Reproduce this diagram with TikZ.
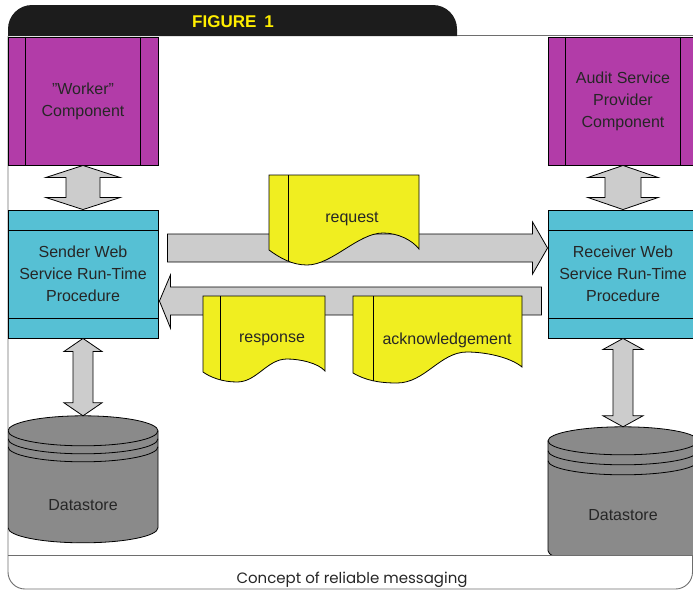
\documentclass[tikz,border=0pt]{standalone}
\usepackage{fontspec}
\setmainfont{Liberation Sans}
\newfontfamily\capfont{Poppins}
\usetikzlibrary{calc}

\definecolor{compmag}{RGB}{178,60,168}
\definecolor{proccyan}{RGB}{86,192,212}
\definecolor{msgyellow}{RGB}{240,238,32}
\definecolor{arrowgray}{RGB}{204,204,204}
\definecolor{storegray}{RGB}{138,138,138}
\definecolor{headblack}{RGB}{28,28,28}
\definecolor{headyellow}{RGB}{255,238,0}
\definecolor{framegray}{RGB}{110,110,110}

% vertical two-headed block arrow between two anchors
% #1 upper anchor, #2 lower anchor, #3 head half width, #4 shaft half width, #5 head length
\newcommand\vdarrow[5]{%
  \draw[blockarrow] (#1) -- ($(#1)+(#3,#5)$) -- ($(#1)+(#4,#5)$)
    -- ($(#2)+(#4,-#5)$) -- ($(#2)+(#3,-#5)$) -- (#2)
    -- ($(#2)+(-#3,-#5)$) -- ($(#2)+(-#4,-#5)$)
    -- ($(#1)+(-#4,#5)$) -- ($(#1)+(-#3,#5)$) -- cycle;}

% database cylinder, origin at the top centre
% #1 x radius, #2 y radius, #3 height, #4 gap between rings
\newcommand\dbcyl[4]{%
  \filldraw[cylfill] (-#1,#2) -- (-#1,{#3-#2})
    .. controls (-#1,{#3-#2+0.552*#2}) and ({-0.552*#1},#3) .. (0,#3)
    .. controls ({0.552*#1},#3) and (#1,{#3-#2+0.552*#2}) .. (#1,{#3-#2})
    -- (#1,#2)
    .. controls (#1,{#2-0.552*#2}) and ({0.552*#1},0) .. (0,0)
    .. controls ({-0.552*#1},0) and (-#1,{#2-0.552*#2}) .. cycle;
  \foreach \k in {0,#4,2*#4}{
    \draw[line width=0.8pt] (-#1,{#2+\k})
      .. controls (-#1,{#2+\k+0.552*#2}) and ({-0.552*#1},{2*#2+\k}) .. (0,{2*#2+\k})
      .. controls ({0.552*#1},{2*#2+\k}) and (#1,{#2+\k+0.552*#2}) .. (#1,{#2+\k});}}

\tikzset{
  box/.style={draw=black, line width=0.9pt, minimum width=150pt, inner sep=0pt,
    align=center, font=\fontsize{16}{22}\selectfont, text=black!85},
  component/.style={box, fill=compmag, minimum height=128pt},
  procedure/.style={box, fill=proccyan, minimum height=128pt},
  blockarrow/.style={draw=black, line width=0.8pt, fill=arrowgray, line join=miter},
  docfill/.style={draw=black, line width=0.8pt, fill=msgyellow},
  lbl/.style={font=\fontsize{16}{22}\selectfont, text=black!85, inner sep=0pt},
  cylfill/.style={fill=storegray, draw=black, line width=0.8pt},
  storeslot/.style={minimum width=150pt, inner sep=0pt},
}

\begin{document}
\begin{tikzpicture}[x=1pt,y=-1pt]
\useasboundingbox (0,0) rectangle (693,590);

% header tab and frame
\fill[headblack] (8,36) [rounded corners=24pt] -- (8,5) -- (457,5) [sharp corners] -- (457,36) -- cycle;
\node[text=headyellow, font=\fontsize{17}{20}\selectfont\bfseries, inner sep=0pt] (title) at (233,22) {FIGURE\hspace{8pt}1};
\draw[framegray, line width=0.9pt] (457,35.5) -- (693,35.5);
\draw[framegray, line width=0.9pt, rounded corners=17pt] (8,36) -- (8,589) -- (692.5,589) -- (692.5,555);

\begin{scope}
\clip (8,36) rectangle (693,555);

% components and procedures
\node[component] (worker) at (83,101) {"Worker"\\Component};
\node[component] (audit) at (623,101) {Audit Service\\Provider\\Component};
\node[procedure] (sender) at (83,274) {Sender Web\\Service Run-Time\\Procedure};
\node[procedure] (receiver) at (623,274) {Receiver Web\\Service Run-Time\\Procedure};

\foreach \n in {worker,audit}{
  \draw[line width=0.9pt] ([xshift=18pt]\n.north west) -- ([xshift=18pt]\n.south west);
  \draw[line width=0.9pt] ([xshift=-18pt]\n.north east) -- ([xshift=-18pt]\n.south east);}
\foreach \n in {sender,receiver}{
  \draw[line width=0.9pt] ([yshift=-21pt]\n.north west) -- ([yshift=-21pt]\n.north east);
  \draw[line width=0.9pt] ([yshift=20pt]\n.south west) -- ([yshift=20pt]\n.south east);}

% datastores
\node[storeslot, minimum height=127pt] (ds1) at (83,479.5) {};
\node[storeslot, minimum height=138pt] (ds2) at (623,496) {};
\begin{scope}[shift={(ds1.north)}] \dbcyl{75}{15}{127}{8} \end{scope}
\begin{scope}[shift={(ds2.north)}] \dbcyl{75}{14}{138}{10} \end{scope}
\node[lbl] (ds1label) at ($(ds1.south)+(0,-38)$) {Datastore};
\node[lbl] (ds2label) at ($(ds2.south)+(0,-50)$) {Datastore};

% vertical links
\vdarrow{worker.south}{sender.north}{37}{17}{12}
\vdarrow{audit.south}{receiver.north}{35}{18}{12}
\vdarrow{sender.south}{ds1.north}{19}{10}{13}
\vdarrow{receiver.south}{ds2.north}{20}{10}{11}

% outgoing channel
\draw[blockarrow] ($(sender.east)+(9,-40)$) -- ($(receiver.west)+(-15,-40)$)
  -- ($(receiver.west)+(-15,-52)$) -- ($(receiver.west)+(0,-26)$)
  -- ($(receiver.west)+(-15,0)$) -- ($(receiver.west)+(-15,-12)$)
  -- ($(sender.east)+(9,-12)$) -- cycle;
% return channel
\draw[blockarrow] ($(receiver.west)+(-6,13)$) -- ($(sender.east)+(12,13)$)
  -- ($(sender.east)+(12,1)$) -- ($(sender.east)+(1,27)$)
  -- ($(sender.east)+(12,54)$) -- ($(sender.east)+(12,41)$)
  -- ($(receiver.west)+(-6,41)$) -- cycle;

% messages
\filldraw[docfill] (269,250) -- (269,175) -- (419,175) -- (419,249)
  .. controls (412,240) and (398,233) .. (383,233)
  .. controls (358,233) and (332,265) .. (307,265)
  .. controls (292,265) and (280,258) .. (269,250) -- cycle;
\draw[line width=0.8pt] (288,175) -- (288,261);
\node[lbl] (req) at (352,219) {request};

\filldraw[docfill] (203,372) -- (203,296) -- (325,296) -- (325,371)
  .. controls (318,363) and (300,359) .. (287,359)
  .. controls (267,359) and (257,382) .. (237,382)
  .. controls (222,382) and (210,377) .. (203,372) -- cycle;
\draw[line width=0.8pt] (220,296) -- (220,380);
\node[lbl] (resp) at (272,340) {response};

\filldraw[docfill] (353,373) -- (353,296) -- (522,296) -- (522,367)
  .. controls (510,357) and (485,352) .. (467,352)
  .. controls (440,352) and (425,383) .. (397,383)
  .. controls (378,383) and (365,380) .. (353,373) -- cycle;
\draw[line width=0.8pt] (373,296) -- (373,381);
\node[lbl] (ack) at (447,340) {acknowledgement};
\end{scope}

\draw[framegray, line width=0.9pt] (8,555) -- (693,555);
\node[font=\capfont\fontsize{15}{18}\selectfont, text=black!85, anchor=base, inner sep=0pt] (caption) at (352,583) {Concept of reliable messaging};
\end{tikzpicture}
\end{document}
